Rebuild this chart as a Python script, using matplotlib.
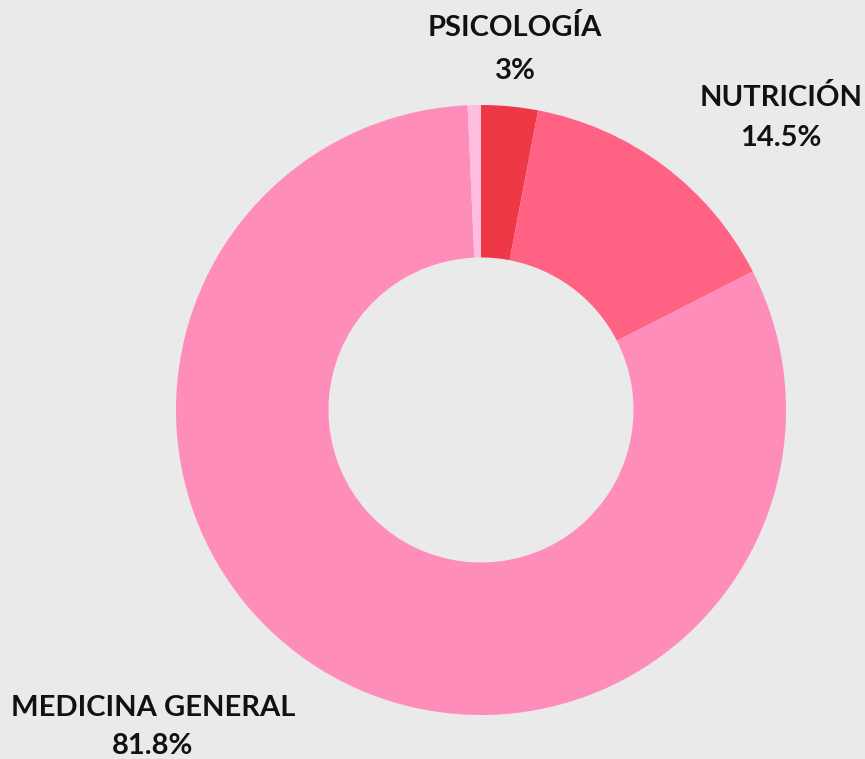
import matplotlib.pyplot as plt

# share of consultations by specialty
labels = ['PSICOLOGÍA', 'NUTRICIÓN', 'MEDICINA GENERAL', '']
values = [3.0, 14.5, 81.8, 0.7]
colors = ['#EF3845', '#FF6282', '#FF8DBA', '#FFBDE0']

W, H = 865, 759
fig = plt.figure(figsize=(W / 100, H / 100), dpi=100)
fig.patch.set_facecolor('#EAEAEA')

# donut centre (481, 410), radius 305 px
cx, cy, r = 481, 410, 305
ax = fig.add_axes([(cx - r) / W, (H - cy - r) / H, 2 * r / W, 2 * r / H])
ax.pie(values, colors=colors, startangle=90, counterclock=False,
       radius=1.0, wedgeprops=dict(width=0.5, linewidth=0))
ax.set_xlim(-1, 1)
ax.set_ylim(-1, 1)
ax.set_aspect('equal')
ax.axis('off')

font = dict(family=['Lato', 'DejaVu Sans'], fontweight='bold', fontsize=21,
            color='#111111', ha='center', va='center')

label_pos = [(515, 27, 71), (781, 97, 138), (153, 708, 746)]
for (name, val), (x, y1, y2) in zip(zip(labels, values), label_pos):
    fig.text(x / W, 1 - y1 / H, name, **font)
    fig.text(x / W, 1 - y2 / H, f'{val:g}%', **font)

fig.savefig('out.png', dpi=100, facecolor=fig.get_facecolor())
